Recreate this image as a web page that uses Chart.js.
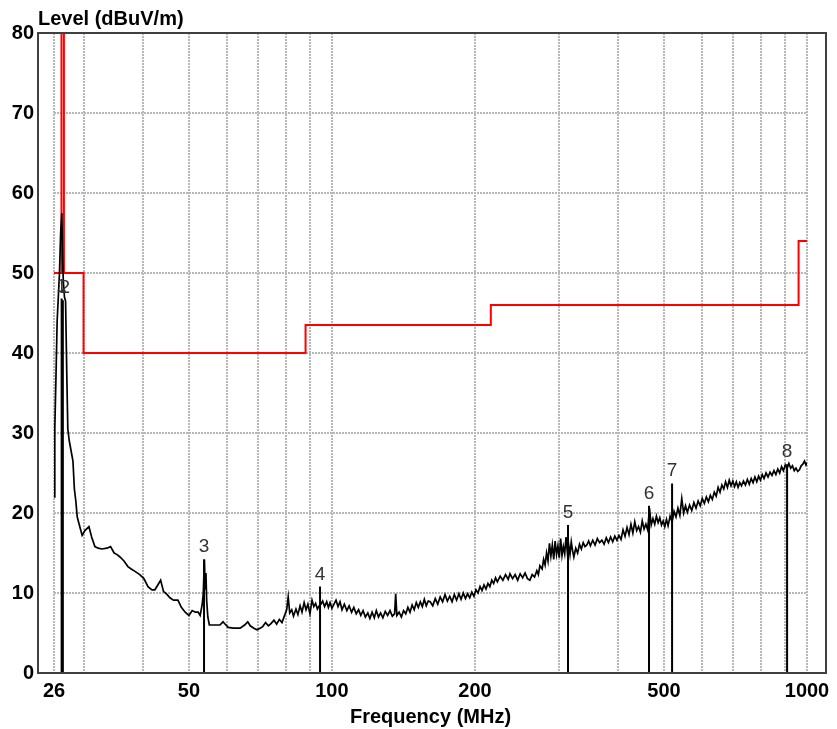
<!DOCTYPE html>
<html><head><meta charset="utf-8">
<script src="https://cdn.jsdelivr.net/npm/chart.js@4.4.0/dist/chart.umd.min.js"></script>
<style>html,body{margin:0;padding:0;background:#fff;overflow:hidden}canvas{display:block}</style>
</head><body>
<canvas id="c" width="837" height="729"></canvas>
<script>
// ---- data ----
const traceFreq = [
 26.0,26.1,26.25,26.4,26.55,26.7,26.85,27.0,27.1,27.2,27.35,27.5,27.65,27.8,28.0,28.3,28.5,28.7,28.9,29.1,29.4,29.8,
 30.2,30.8,31.2,31.7,32.2,32.8,33.6,34.2,34.8,35.3,35.8,36.5,37.2,37.8,38.5,39.4,40.2,41.0,41.8,42.4,43.0,43.6,44.2,45.0,45.6,46.4,47.4,48.2,49.1,50.0,50.8,51.6,52.3,52.8,53.3,53.6,
 53.9,54.1,54.3,54.5,54.8,55.2,56.0,57.0,58.1,59.0,59.6,60.5,62.0,64.1,65.5,66.5,67.3,68.5,69.5,70.6,
 71.5,72.5,73.5,74.5,75.5,76.5,77.5,78.5,79.5,80.3,80.9,81.5,82.3,83.0,84.0,84.8,85.7,86.5,87.4,88.2,89.0,89.9,90.8,91.6,92.4,93.2,94.0,94.8,95.6,96.5,97.5,98.3,99.1,100.0,
 101.0,102.0,103.0,104.0,105.0,106.2,107.5,108.7,110.0,111.2,112.5,113.8,115.0,116.3,117.6,119.0,120.2,121.5,122.8,124.0,125.3,126.6,128.0,129.5,131.0,132.5,134.0,135.5,136.2,137.0,138.5,140.0,141.5,143.0,144.5,146.0,147.5,149.0,150.5,152.0,153.5,155.0,156.5,158.0,159.5,
 161,163,165,167,169,171,173,175,177,179,181,183,185,187,189,191,193,195,197,199,201,203,205,207,209,211,213,215,217,219,221,223,226,229,232,235,237,240,243,246,249,252,255,258,261,264,267,270,272,274,277,279,
 281,283,285,287,289,291,293,295,297,299,301,303,305,307,309,311,313,315,317,319,321,323,326,329,332,335,338,341,344,347,350,354,358,362,366,370,374,378,382,386,390,394,398,
 402,406,410,414,418,422,426,430,434,438,442,446,450,454,458,462,466,
 470,474,478,482,486,490,494,498,502,506,510,
 515,520,525,530,535,540,545,550,555,560,
 566,572,578,584,590,596,602,608,614,620,626,632,638,644,
 650,656,662,668,674,680,686,692,698,704,710,716,722,728,
 735,742,749,756,763,770,777,784,791,798,805,
 812,820,828,836,844,852,860,868,876,884,892,900,908,916,924,932,940,948,956,964,972,980,988,
 995,1000
];
const traceLevel = [
 22.0,30.5,37.0,44.0,47.0,50.0,55.0,57.5,52.0,49.0,47.0,46.5,38.0,30.5,29.0,27.5,26.5,23.0,21.5,19.5,18.5,17.2,
 17.8,18.3,17.0,15.8,15.6,15.5,15.6,15.8,15.0,14.8,14.5,14.0,13.3,13.0,12.7,12.3,11.8,10.8,10.4,10.4,11.0,11.6,10.2,9.8,9.4,9.1,9.1,8.2,7.6,7.2,7.8,7.6,7.6,7.2,8.5,9.9,
 14.2,10.5,12.5,9.0,7.0,6.0,6.0,6.0,6.0,6.4,6.1,5.7,5.6,5.6,6.0,6.4,5.9,5.6,5.4,5.6,
 5.8,6.3,5.9,6.2,6.6,6.1,6.7,6.3,7.2,7.9,9.5,7.5,7.9,7.1,8.0,7.3,8.4,7.6,8.8,7.9,8.6,7.4,9.1,8.3,8.7,8.0,8.4,8.6,9.0,8.3,8.9,8.2,8.8,8.1,
 8.6,9.1,8.3,8.9,7.9,8.6,7.8,8.4,7.6,8.2,7.4,7.9,7.2,7.8,7.0,7.5,6.8,7.6,6.9,7.8,7.0,7.5,6.9,7.7,7.2,7.8,7.1,7.4,9.9,7.2,7.6,7.0,7.8,7.4,8.2,7.6,8.5,7.9,8.8,8.2,8.9,8.3,9.2,8.4,9.0,
 8.9,8.4,9.3,8.6,9.5,8.9,9.8,9.0,9.6,8.9,9.8,9.1,9.9,9.2,10.0,9.3,9.9,9.4,10.1,9.6,10.4,10.0,10.8,10.3,11.0,10.5,11.2,10.8,11.6,11.2,11.9,11.4,12.1,11.6,12.3,11.7,12.4,11.8,12.3,11.6,12.4,11.9,12.5,11.8,11.6,12.3,12.0,12.8,12.3,13.4,13.0,14.2,
 13.5,15.0,14.0,16.2,14.6,16.0,14.2,16.5,14.8,15.9,14.4,16.8,14.7,15.8,14.9,17.0,15.1,16.0,14.8,16.4,15.3,14.5,15.6,15.0,16.1,15.5,16.3,15.8,16.0,16.5,15.9,16.6,16.0,16.8,16.3,16.6,16.1,16.9,16.3,17.0,16.4,17.1,16.6,
 17.2,16.7,17.9,17.1,18.2,17.3,18.6,17.5,18.9,17.8,18.3,17.6,19.0,18.0,18.6,17.9,20.6,
 18.5,19.3,18.6,19.6,18.8,19.4,18.5,19.0,18.3,19.2,18.4,
 19.6,18.9,20.2,19.5,20.6,19.7,21.8,20.0,20.9,20.1,
 21.0,20.3,21.3,20.6,21.5,20.9,21.8,21.2,22.0,21.4,22.2,21.7,22.6,22.1,
 23.2,22.6,23.5,23.0,23.9,23.2,24.1,23.4,24.0,23.3,23.9,23.2,23.8,23.4,
 24.0,23.5,24.2,23.6,24.3,23.8,24.5,23.9,24.6,24.1,24.8,
 24.3,25.0,24.5,25.1,24.7,25.3,24.8,25.5,25.0,25.8,25.3,26.0,25.6,26.2,25.6,25.9,25.3,25.6,25.2,25.4,25.9,26.1,26.5,
 26.0,26.3
];
const limitFreq  = [26, 26.96, 26.96, 27.28, 27.28, 30, 30, 88, 88, 216, 216, 960, 960, 1000];
const limitLevel = [50, 50,    120,   120,   50,    50, 40, 40, 43.5, 43.5, 46, 46, 54, 54];
const markerLabels = ['1', '2', '3', '4', '5', '6', '7', '8'];
const markerFreq   = [26.98, 27.14, 53.8, 94.4, 314, 465, 520, 908];
const markerLevel  = [46.8, 46.6, 14.2, 10.8, 18.5, 20.9, 23.7, 26.1];
const xGridValues  = [26, 30, 40, 50, 60, 70, 80, 90, 100, 200, 300, 400, 500, 600, 700, 800, 900, 1000];
const xTickLabels  = [26, 50, 100, 200, 500, 1000];
const yAxisTitle = 'Level (dBuV/m)';
const xAxisTitle = 'Frequency (MHz)';

// ---- build ----
const FONT = '"Liberation Sans", Arial, sans-serif';
const tracePts = traceFreq.map((f, i) => ({x: f, y: traceLevel[i]}));
const limitPts = limitFreq.map((f, i) => ({x: f, y: limitLevel[i]}));
const markerPts = [];
markerFreq.forEach((f, i) => {
  markerPts.push({x: f, y: 0}, {x: f, y: markerLevel[i]}, {x: f, y: null});
});

const decorPlugin = {
  id: 'decor',
  afterDraw(chart) {
    const {ctx, chartArea: a, scales: {x, y}} = chart;
    ctx.save();
    // frame
    ctx.strokeStyle = '#404040';
    ctx.lineWidth = 2;
    ctx.strokeRect(a.left - 16, a.top, (a.right + 19) - (a.left - 16), a.bottom - a.top);
    // marker labels
    ctx.font = '19px ' + FONT;
    ctx.fillStyle = '#333';
    ctx.textAlign = 'center';
    ctx.textBaseline = 'alphabetic';
    markerLabels.forEach((t, i) => {
      const px = x.getPixelForValue(markerFreq[i]);
      const py = y.getPixelForValue(markerLevel[i]);
      ctx.fillText(t, px + (i === 1 ? 2 : 0), py - 7);
    });
    // y title
    ctx.font = 'bold 20px ' + FONT;
    ctx.fillStyle = '#000';
    ctx.textAlign = 'left';
    ctx.fillText(yAxisTitle, a.left - 16, a.top - 8);
    ctx.restore();
  }
};

new Chart(document.getElementById('c'), {
  type: 'line',
  data: {
    datasets: [
      {data: tracePts, borderColor: '#000', borderWidth: 1.7, pointRadius: 0, tension: 0, order: 0},
      {data: markerPts, borderColor: '#000', borderWidth: 2, pointRadius: 0, spanGaps: false, order: 1},
      {data: limitPts, borderColor: '#ff0000', borderWidth: 2, pointRadius: 0, tension: 0, order: 2}
    ]
  },
  options: {
    responsive: false,
    animation: false,
    layout: {padding: {top: 33, right: 30, bottom: 0, left: 0}},
    plugins: {legend: {display: false}, tooltip: {enabled: false}, title: {display: false}},
    scales: {
      x: {
        type: 'logarithmic', min: 26, max: 1000,
        afterBuildTicks: s => { s.ticks = xGridValues.map(v => ({value: v})); },
        afterFit: s => { s.height = 56; },
        ticks: {
          autoSkip: false, maxRotation: 0, padding: 6, color: '#000',
          font: {family: FONT, size: 20, weight: 'bold'},
          callback: v => xTickLabels.includes(v) ? String(v) : ''
        },
        grid: {color: '#b8b8b8', lineWidth: 2, drawTicks: false},
        border: {display: false, dash: [2, 1]},
        title: {display: true, text: xAxisTitle, color: '#000', padding: {top: 0, bottom: 0},
                font: {family: FONT, size: 20, weight: 'bold'}}
      },
      y: {
        min: 0, max: 80,
        afterFit: s => { s.width = 54; },
        ticks: {stepSize: 10, padding: 20, color: '#000', font: {family: FONT, size: 20, weight: 'bold'}},
        grid: {color: '#b8b8b8', lineWidth: 2, drawTicks: false},
        border: {display: false, dash: [2, 1]}
      }
    }
  },
  plugins: [decorPlugin]
});
</script>
</body></html>
